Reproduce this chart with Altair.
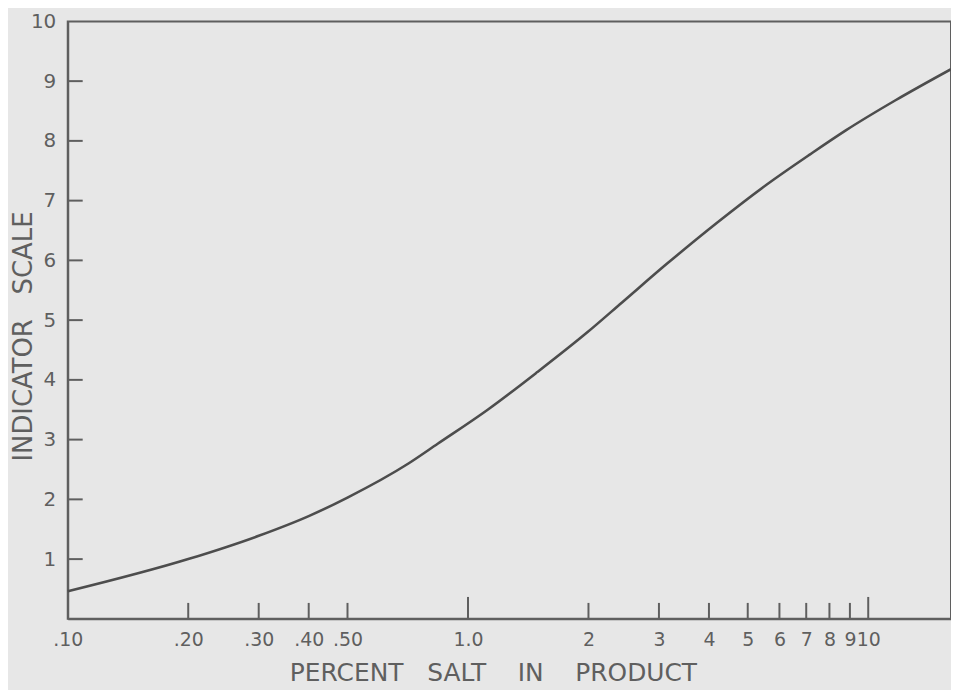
import json
import altair as alt
import pandas as pd

# Curve: percent salt (log scale) vs indicator scale
salt_pct = [0.10, 0.20, 0.30, 0.40, 0.50, 0.71, 0.84, 1.12, 1.49, 1.99, 2.43, 3.15, 4.19, 5.58, 7.14, 8.81, 11.7, 16.1]
indicator = [0.46, 1.00, 1.39, 1.72, 2.03, 2.60, 2.93, 3.50, 4.13, 4.80, 5.30, 5.95, 6.63, 7.27, 7.77, 8.18, 8.68, 9.20]

x_tick_values = [0.1, 0.2, 0.3, 0.4, 0.5, 1.0, 2, 3, 4, 5, 6, 7, 8, 9, 10]
x_tick_labels = [".10", ".20", ".30", ".40", ".50", "1.0", "2", "3", "4", "5", "6", "7", "8", "9", "10"]
x_minor_ticks = [0.2, 0.3, 0.4, 0.5, 2, 3, 4, 5, 6, 7, 8, 9]
x_major_ticks = [1.0, 10]
y_tick_values = [1, 2, 3, 4, 5, 6, 7, 8, 9, 10]
y_inner_ticks = [1, 2, 3, 4, 5, 6, 7, 8, 9]

curve_df = pd.DataFrame({"salt": salt_pct, "ind": indicator})
minor_df = pd.DataFrame({"salt": x_minor_ticks})
major_df = pd.DataFrame({"salt": x_major_ticks})
ytick_df = pd.DataFrame({"ind": y_inner_ticks})

INK = "#5f5f5f"
FONT = "DejaVu Sans"
NB = "\u00a0"

label_expr = "{}[indexof({}, datum.value)]".format(json.dumps(x_tick_labels), json.dumps(x_tick_values))

x_scale = alt.Scale(type="log", domain=[0.1, 16.1], nice=False)
y_scale = alt.Scale(domain=[0, 10], nice=False, zero=False)

x_axis = alt.Axis(
    values=x_tick_values, labelExpr=label_expr, ticks=False, tickSize=0, grid=False,
    title="PERCENT" + NB * 3 + "SALT" + NB * 4 + "IN" + NB * 4 + "PRODUCT",
    labelFontSize=19, labelPadding=12, labelFlush=False, labelOverlap=False,
    titleFontSize=25, titleFontWeight="normal", titleX=427, titleY=62,
    titleBaseline="alphabetic", titleAlign="center",
)
y_axis = alt.Axis(
    values=y_tick_values, format="d", ticks=False, tickSize=0, grid=False,
    title="INDICATOR" + NB * 3 + "SCALE",
    labelFontSize=20, labelPadding=12, labelFlush=False, labelOverlap=False,
    titleFontSize=26, titleFontWeight="normal", titleX=-44, titleY=316,
    titleAlign="center", titleBaseline="middle",
)

curve = alt.Chart(curve_df).mark_line(
    color="#4d4d4d", strokeWidth=2.6, interpolate="monotone"
).encode(
    x=alt.X("salt:Q", scale=x_scale, axis=x_axis),
    y=alt.Y("ind:Q", scale=y_scale, axis=y_axis),
)

minor = alt.Chart(minor_df).mark_rule(color=INK, strokeWidth=2).encode(
    x=alt.X("salt:Q", scale=x_scale),
    y=alt.value(600), y2=alt.value(584),
)
major = alt.Chart(major_df).mark_rule(color=INK, strokeWidth=2).encode(
    x=alt.X("salt:Q", scale=x_scale),
    y=alt.value(600), y2=alt.value(578),
)
yticks = alt.Chart(ytick_df).mark_rule(color=INK, strokeWidth=2).encode(
    y=alt.Y("ind:Q", scale=y_scale),
    x=alt.value(0), x2=alt.value(15),
)

chart = alt.layer(curve, minor, major, yticks).properties(
    width=887, height=600,
    autosize=alt.AutoSizeParams(type="none"),
    padding={"left": 60, "top": 12, "right": 0, "bottom": 70},
    background="#e7e7e7",
).configure_view(
    stroke=INK, strokeWidth=2,
).configure_axis(
    domainColor=INK, domainWidth=2,
    labelColor=INK, titleColor=INK, labelFont=FONT, titleFont=FONT,
)

chart.save("out.html", embed_options={"renderer": "svg", "actions": False})
